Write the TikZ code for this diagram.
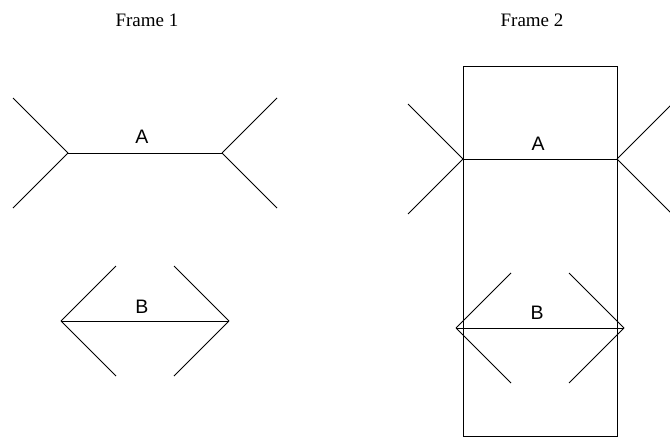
\documentclass[tikz,border=0pt]{standalone}
\usepackage{fontspec}
\setmainfont{Liberation Serif}
\newfontfamily\letterfont{Liberation Sans}
\usetikzlibrary{positioning}

\tikzset{
  letter/.style={font=\letterfont\fontsize{19.5}{22}\selectfont, inner sep=0pt},
  title/.style={font=\fontsize{19}{22}\selectfont, inner sep=0pt}
}

\begin{document}
\begin{tikzpicture}[x=1pt, y=-1pt, line width=1pt]
  \useasboundingbox (0,0) rectangle (670,439);
  \clip (0,0) rectangle (670,439);

  % Titel
  \node[title] (frameA) at (147,20) {Frame 1};
  \node[title] (frameB) at (532,20) {Frame 2};

  % Frame 1: A mit Flossen nach aussen
  \coordinate (A1w) at (68,153);
  \coordinate (A1e) at (222,153);
  \draw (A1w) -- (A1e);
  \foreach \dy in {-55,55} {
    \draw (A1w) -- ++(-55,\dy);
    \draw (A1e) -- ++(55,\dy);
  }
  \node[letter] (labA1) at (142,137) {A};

  % Frame 1: B mit Flossen nach innen
  \coordinate (B1w) at (61,321);
  \coordinate (B1e) at (229,321);
  \draw (B1w) -- (B1e);
  \foreach \dy in {-55,55} {
    \draw (B1w) -- ++(55,\dy);
    \draw (B1e) -- ++(-55,\dy);
  }
  \node[letter] (labB1) at (142,307) {B};

  % Frame 2: Rahmen
  \draw (463,66) rectangle (617,436);

  % Frame 2: A
  \coordinate (A2w) at (463,159);
  \coordinate (A2e) at (617,159);
  \draw (A2w) -- (A2e);
  \foreach \dy in {-55,55} {
    \draw (A2w) -- ++(-55,\dy);
    \draw (A2e) -- ++(55,\dy);
  }
  \node[letter] (labA2) at (538,144) {A};

  % Frame 2: B
  \coordinate (B2w) at (456,328);
  \coordinate (B2e) at (624,328);
  \draw (B2w) -- (B2e);
  \foreach \dy in {-55,55} {
    \draw (B2w) -- ++(55,\dy);
    \draw (B2e) -- ++(-55,\dy);
  }
  \node[letter] (labB2) at (537,313) {B};
\end{tikzpicture}
\end{document}
